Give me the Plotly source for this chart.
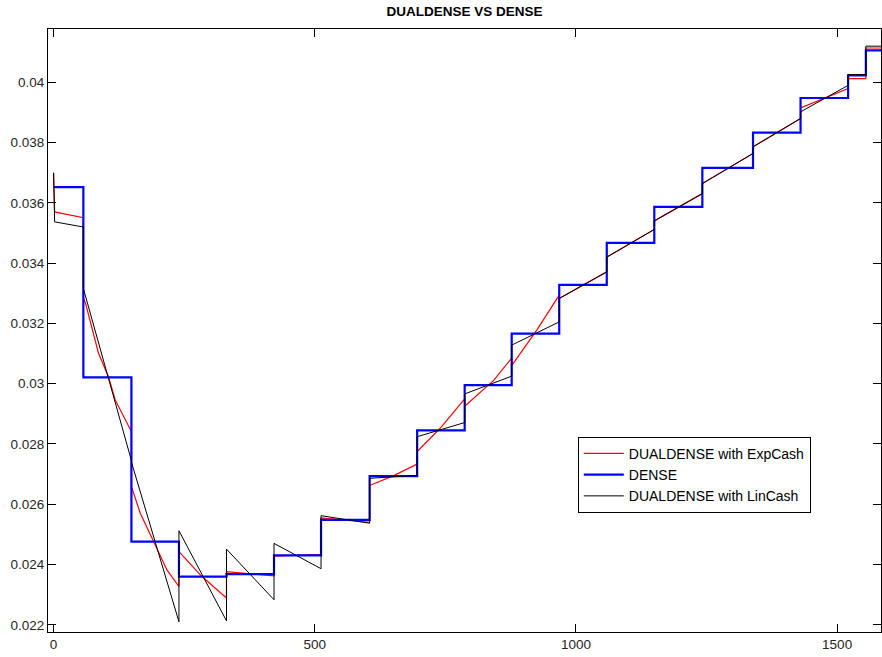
import plotly.graph_objects as go

# ---- DENSE (step function) ----
dense_x = [0, 57, 149, 240, 331, 422, 512, 605, 696, 787, 877, 968, 1059, 1150, 1242, 1339, 1430, 1521, 1555, 1584]
dense_y = [0.03652, 0.03021, 0.02476, 0.02360, 0.02368, 0.02430, 0.02548, 0.02693, 0.02845, 0.02995,
           0.03166, 0.03328, 0.03467, 0.03587, 0.03716, 0.03833, 0.03948, 0.04023, 0.04106, 0.04106]

# ---- DUALDENSE with LinCash ----
lin_x = [0, 2, 57, 57, 149, 149, 240, 240, 331, 331, 422, 422, 512, 512, 605, 605, 696, 696, 787, 787,
         877, 877, 968, 968, 1059, 1059, 1150, 1150, 1242, 1242, 1339, 1339, 1430, 1430, 1521, 1521,
         1555, 1555, 1584]
lin_y = [0.03700, 0.03537, 0.03520, 0.03316, 0.02745, 0.02740, 0.02210, 0.02512, 0.02213, 0.02451,
         0.02283, 0.02470, 0.02386, 0.02562, 0.02537, 0.02686, 0.02696, 0.02824, 0.02871, 0.02966,
         0.03025, 0.03128, 0.03205, 0.03283, 0.03371, 0.03420, 0.03512, 0.03540, 0.03631, 0.03664,
         0.03764, 0.03786, 0.03880, 0.03902, 0.03990, 0.04026, 0.04026, 0.04120, 0.04120]

# ---- DUALDENSE with ExpCash ----
exp_x = [0, 2, 57, 57, 61, 70, 86, 105, 118, 149,
         149, 166, 191, 217, 240,
         240, 284, 331,
         331, 422,
         422, 512,
         512, 605,
         605, 651, 696,
         696, 740, 787,
         787, 842, 877,
         877, 925, 968,
         968, 1059, 1059, 1150, 1150, 1242, 1242, 1339, 1339, 1430, 1430, 1521, 1521, 1555, 1555, 1584]
exp_y = [0.03700, 0.03570, 0.03551, 0.03285, 0.03268, 0.03211, 0.03101, 0.03023, 0.02946, 0.02841,
         0.02658, 0.02570, 0.02476, 0.02382, 0.02327,
         0.02443, 0.02360, 0.02289,
         0.02376, 0.02362,
         0.02428, 0.02434,
         0.02555, 0.02540,
         0.02662, 0.02695, 0.02733,
         0.02775, 0.02852, 0.02950,
         0.02925, 0.03010, 0.03085,
         0.03060, 0.03178, 0.03294,
         0.03283, 0.03371, 0.03420, 0.03512, 0.03540, 0.03631, 0.03664, 0.03764, 0.03786, 0.03880,
         0.03915, 0.03979, 0.04012, 0.04012, 0.04114, 0.04114]

y_ticks = [0.022, 0.024, 0.026, 0.028, 0.030, 0.032, 0.034, 0.036, 0.038, 0.040]
y_tick_text = ["0.022", "0.024", "0.026", "0.028", "0.03", "0.032", "0.034", "0.036", "0.038", "0.04"]
x_ticks = [0, 500, 1000, 1500]
x_tick_text = ["0", "500", "1000", "1500"]

fig = go.Figure()
fig.add_trace(go.Scatter(x=exp_x, y=exp_y, mode="lines", name="DUALDENSE with ExpCash",
                         line=dict(color="#ff0000", width=1.2)))
fig.add_trace(go.Scatter(x=dense_x, y=dense_y, mode="lines", name="DENSE",
                         line=dict(color="#0000ff", width=2.2, shape="hv")))
fig.add_trace(go.Scatter(x=lin_x, y=lin_y, mode="lines", name="DUALDENSE with LinCash",
                         line=dict(color="#000000", width=1)))

font_family = "Liberation Sans, Arial, sans-serif"
fig.update_layout(
    width=882, height=657,
    margin=dict(l=48, r=1, t=29, b=25),
    paper_bgcolor="white", plot_bgcolor="white",
    title=dict(text="<b>DUALDENSE VS DENSE</b>", x=0.5, xref="paper", y=1, yref="container",
               yanchor="top", pad=dict(t=7),
               font=dict(family=font_family, size=13.5, color="#000000")),
    font=dict(family=font_family, size=13.5, color="#262626"),
    showlegend=True,
    legend=dict(x=0.636, y=0.3236, xanchor="left", yanchor="top",
                bgcolor="white", bordercolor="#000000", borderwidth=1,
                font=dict(family=font_family, size=14, color="#000000"),
                itemwidth=40, tracegroupgap=0),
    xaxis=dict(range=[-10.7, 1584], tickvals=x_ticks, ticktext=x_tick_text,
               ticks="inside", ticklen=8, tickcolor="#000000", tickwidth=1,
               showline=True, linecolor="#000000", linewidth=1, mirror="allticks",
               showgrid=False, zeroline=False),
    yaxis=dict(range=[0.02176, 0.04177], tickvals=y_ticks, ticktext=y_tick_text,
               ticks="inside", ticklen=8, tickcolor="#000000", tickwidth=1,
               showline=True, linecolor="#000000", linewidth=1, mirror="allticks",
               showgrid=False, zeroline=False),
)

fig.write_html("out.html")
